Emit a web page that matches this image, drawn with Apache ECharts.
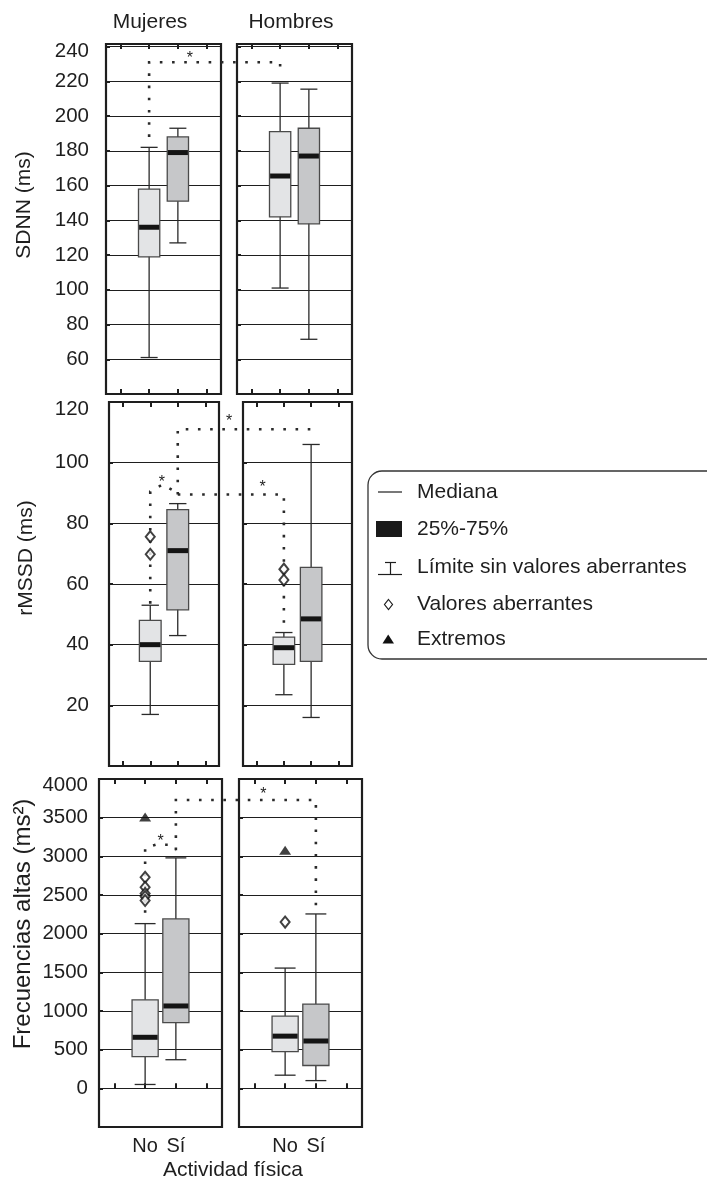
<!DOCTYPE html>
<html><head><meta charset="utf-8">
<script src="https://cdn.jsdelivr.net/npm/echarts@6/dist/echarts.min.js"></script>
<style>html,body{margin:0;padding:0;background:#fff}#c{width:707px;height:1183px}</style>
</head><body><div id="c"></div>
<script>
// ---------------- data ----------------
const sexes = ['Mujeres', 'Hombres'];
const actividad = ['No', 'Sí'];
const measures = ['SDNN (ms)', 'rMSSD (ms)', 'Frecuencias altas (ms²)'];
// each row: [lower whisker, Q1, median, Q3, upper whisker]  (No, Sí)
const sdnnMujeres  = [[61, 119, 136, 158, 182], [127, 151, 179, 188, 193]];
const sdnnHombres  = [[101, 142, 165.5, 191, 219], [71.5, 138, 177, 193, 215.5]];
const rmssdMujeres = [[17, 34.5, 40, 48, 53], [43, 51.5, 71, 84.5, 86.5]];
const rmssdHombres = [[23.5, 33.5, 39, 42.5, 44], [16, 34.5, 48.5, 65.5, 106]];
const faMujeres    = [[50, 410, 660, 1145, 2130], [370, 850, 1065, 2190, 2980]];
const faHombres    = [[170, 475, 675, 935, 1555], [100, 295, 612, 1090, 2255]];
// outliers (valores aberrantes) and extremes: [actividad index, value]
const rmssdMujeresOut = [[0, 75.6], [0, 69.8]];
const rmssdHombresOut = [[0, 64.9], [0, 61.3]];
const faMujeresOut = [[0, 2730], [0, 2600], [0, 2520], [0, 2480], [0, 2430]];
const faHombresOut = [[0, 2150]];
const faMujeresExt = [[0, 3510]];
const faHombresExt = [[0, 3080]];
// y axis scales per measure: [min, max, interval]
const sdnnScale  = [40, 241.5, 20];
const rmssdScale = [0, 120, 20];
const faScale    = [-500, 4000, 500];
// significance brackets: points [panel, x (2 = No, 3 = Sí), value]
const sigBrackets = [
  [[0, 2, 188], [0, 2, 231], [1, 2, 231], [1, 2, 224]],
  [[2, 2, 53.5], [2, 2, 90.5], [2, 2.45, 92.8], [2, 3, 90]],
  [[2, 3, 89.5], [2, 3, 111], [3, 3, 111], [3, 3, 109.5]],
  [[2, 3, 89.5], [3, 2, 89.5], [3, 2, 47]],
  [[4, 2, 2270], [4, 2, 3110], [4, 2.35, 3150], [4, 2.75, 3150], [4, 3, 3080]],
  [[4, 3, 3080], [4, 3, 3728], [5, 3, 3728], [5, 3, 2280]]
];
const sigStars = [[0, 3.42, 235], [2, 2.42, 94.3], [2, 4.87, 114.6], [3, 1.22, 92.9], [4, 2.5, 3224], [5, 1.29, 3836]];

// ---------------- layout / style ----------------
const FONT = 'Liberation Sans, Arial, Helvetica, sans-serif';
const INK = '#1e1e1e';
const fills = ['#e3e4e6', '#c6c7c9'];
const grids = [
  {left: 106, top: 44, width: 115, height: 350},
  {left: 237, top: 44, width: 115, height: 350},
  {left: 109, top: 402, width: 110, height: 364},
  {left: 243, top: 402, width: 109, height: 364},
  {left: 99, top: 779, width: 123, height: 348},
  {left: 239, top: 779, width: 123, height: 348}
];
const rowStyle = [
  {scale: sdnnScale, topLabel: 240, pad: 9, margin: 17, boxW: 0.74},
  {scale: rmssdScale, topLabel: 120, pad: 15, margin: 20, boxW: 0.79},
  {scale: faScale, topLabel: 4000, pad: 13, margin: 11, boxW: 0.85}
];
const panels = [
  {box: sdnnMujeres, out: [], ext: []},
  {box: sdnnHombres, out: [], ext: []},
  {box: rmssdMujeres, out: rmssdMujeresOut, ext: []},
  {box: rmssdHombres, out: rmssdHombresOut, ext: []},
  {box: faMujeres, out: faMujeresOut, ext: faMujeresExt},
  {box: faHombres, out: faHombresOut, ext: faHombresExt}
];

function renderBox(boxW) {
  return function (params, api) {
    const x = api.value(0);
    const lo = api.coord([x, api.value(1)]);
    const q1 = api.coord([x, api.value(2)]);
    const md = api.coord([x, api.value(3)]);
    const q3 = api.coord([x, api.value(4)]);
    const hi = api.coord([x, api.value(5)]);
    const w = api.size([boxW, 0])[0];
    const cw = w * 0.8;
    const cx = lo[0];
    const ls = {stroke: '#2a2a2a', lineWidth: 1.3};
    return {type: 'group', children: [
      {type: 'line', shape: {x1: cx, y1: lo[1], x2: cx, y2: hi[1]}, style: ls},
      {type: 'line', shape: {x1: cx - cw / 2, y1: lo[1], x2: cx + cw / 2, y2: lo[1]}, style: ls},
      {type: 'line', shape: {x1: cx - cw / 2, y1: hi[1], x2: cx + cw / 2, y2: hi[1]}, style: ls},
      {type: 'rect', shape: {x: cx - w / 2, y: q3[1], width: w, height: q1[1] - q3[1]},
        style: {fill: fills[x - 2], stroke: '#4a4a4a', lineWidth: 1.3}},
      {type: 'rect', shape: {x: cx - w / 2 + 0.6, y: md[1] - 2.5, width: w - 1.2, height: 5}, style: {fill: '#141414'}}
    ]};
  };
}

const xAxes = [], yAxes = [], series = [];
grids.forEach((g, p) => {
  const row = Math.floor(p / 2);
  const rs = rowStyle[row];
  const [mn, mx, iv] = rs.scale;
  const tickStyle = {show: true, inside: true, length: 5, lineStyle: {color: INK, width: 2}};
  xAxes[p] = {
    gridIndex: p, type: 'value', min: 0.5, max: 4.5, position: 'bottom',
    axisLine: {show: false}, splitLine: {show: false},
    axisTick: Object.assign({customValues: [1, 2, 3, 4]}, tickStyle),
    axisLabel: {show: row === 2, customValues: [2, 3], formatter: v => actividad[v - 2] || '',
      margin: 9, fontSize: 20, color: INK, fontFamily: FONT}
  };
  xAxes[6 + p] = {
    gridIndex: p, type: 'value', min: 0.5, max: 4.5, position: 'top',
    axisLine: {show: false}, splitLine: {show: false},
    axisTick: Object.assign({customValues: [1, 2, 3, 4]}, tickStyle),
    axisLabel: {show: false}
  };
  yAxes[p] = {
    gridIndex: p, type: 'value', min: mn, max: mx, interval: iv,
    axisLine: {show: false},
    axisTick: {show: true, inside: true, length: 4, lineStyle: {color: INK, width: 2}},
    splitLine: {show: true, lineStyle: {color: INK, width: 1.2}},
    axisLabel: {
      show: p % 2 === 0, margin: rs.margin, fontSize: 20.5, color: INK, fontFamily: FONT,
      showMinLabel: false, showMaxLabel: mx === rs.topLabel,
      formatter: v => v === rs.topLabel ? '{t|' + v + '}' : String(v),
      rich: {t: {fontSize: 20.5, color: INK, fontFamily: FONT, padding: [rs.pad, 0, 0, 0]}}
    }
  };
  const pan = panels[p];
  series.push({
    type: 'custom', name: '25%-75%', xAxisIndex: p, yAxisIndex: p,
    renderItem: renderBox(rs.boxW),
    encode: {x: 0, y: [1, 2, 3, 4, 5]},
    data: pan.box.map((r, i) => [i + 2].concat(r)),
    z: 3
  });
  if (pan.out.length) series.push({
    type: 'scatter', name: 'Valores aberrantes', xAxisIndex: p, yAxisIndex: p,
    symbol: 'emptyDiamond', symbolSize: [9, 11],
    itemStyle: {color: '#111', borderWidth: 1.3},
    data: pan.out.map(([i, v]) => [i + 2, v]), z: 4
  });
  if (pan.ext.length) series.push({
    type: 'scatter', name: 'Extremos', xAxisIndex: p, yAxisIndex: p,
    symbol: 'triangle', symbolSize: [12, 9],
    itemStyle: {color: '#111'},
    data: pan.ext.map(([i, v]) => [i + 2, v]), z: 4
  });
});

const option = {
  animation: false,
  backgroundColor: '#fff',
  grid: grids.map(g => Object.assign({show: true, borderColor: INK, borderWidth: 2.2, backgroundColor: 'transparent'}, g)),
  xAxis: xAxes,
  yAxis: yAxes,
  series: series
};

const chart = echarts.init(document.getElementById('c'), null, {renderer: 'canvas'});
chart.setOption(option);

const toPx = (p, x, v) => chart.convertToPixel({xAxisIndex: p, yAxisIndex: p}, [x, v]);
const txt = (text, x, y, size, extra) => Object.assign({type: 'text', x: x, y: y, silent: true,
  style: {text: text, fill: INK, font: size + 'px ' + FONT, align: 'center', verticalAlign: 'middle'}}, extra || {});

const graphics = [];
// column titles
graphics.push(txt(sexes[0], 150, 22, 21));
graphics.push(txt(sexes[1], 291, 22, 21));
// axis names (rotated)
graphics.push(txt(measures[0], 24, 205, 21, {rotation: Math.PI / 2}));
graphics.push(txt(measures[1], 26, 558, 21, {rotation: Math.PI / 2}));
graphics.push(txt(measures[2], 23, 924, 24, {rotation: Math.PI / 2}));
graphics.push(txt('Actividad física', 233, 1170, 21));

// significance brackets
sigBrackets.forEach(b => graphics.push({
  type: 'polyline', silent: true, z: 1,
  shape: {points: b.map(([p, x, v]) => toPx(p, x, v))},
  style: {stroke: '#2a2a2a', lineWidth: 2.6, lineDash: [2.6, 9.6], fill: null}
}));
sigStars.forEach(([p, x, v]) => {
  const [px, py] = toPx(p, x, v);
  graphics.push({type: 'text', x: px, y: py + 3, silent: true, z: 1,
    style: {text: '*', fill: INK, font: '16px ' + FONT, align: 'center', verticalAlign: 'middle'}});
});

// legend
const legendItems = ['Mediana', '25%-75%', 'Límite sin valores aberrantes', 'Valores aberrantes', 'Extremos'];
const ly = [492, 529, 567.5, 604.5, 639];
graphics.push({type: 'rect', silent: true, shape: {x: 368, y: 471, width: 380, height: 188, r: 14},
  style: {fill: null, stroke: '#333', lineWidth: 1.3}});
legendItems.forEach((t, i) => graphics.push({type: 'text', x: 417, y: ly[i], silent: true,
  style: {text: t, fill: INK, font: '21px ' + FONT, align: 'left', verticalAlign: 'middle'}}));
graphics.push({type: 'line', silent: true, shape: {x1: 378, y1: ly[0], x2: 402, y2: ly[0]}, style: {stroke: INK, lineWidth: 1.2}});
graphics.push({type: 'rect', silent: true, shape: {x: 376, y: ly[1] - 8, width: 26, height: 16}, style: {fill: '#1a1a1a'}});
graphics.push({type: 'line', silent: true, shape: {x1: 385, y1: ly[2] - 5, x2: 396, y2: ly[2] - 5}, style: {stroke: INK, lineWidth: 1.2}});
graphics.push({type: 'line', silent: true, shape: {x1: 390.5, y1: ly[2] - 5, x2: 390.5, y2: ly[2] + 7}, style: {stroke: INK, lineWidth: 1.2}});
graphics.push({type: 'line', silent: true, shape: {x1: 378, y1: ly[2] + 7, x2: 402, y2: ly[2] + 7}, style: {stroke: INK, lineWidth: 1.2}});
graphics.push({type: 'polygon', silent: true, shape: {points: [[388.5, ly[3] - 5], [392.5, ly[3]], [388.5, ly[3] + 5], [384.5, ly[3]]]}, style: {fill: '#fff', stroke: INK, lineWidth: 1.2}});
graphics.push({type: 'polygon', silent: true, shape: {points: [[382.5, ly[4] + 4.5], [394, ly[4] + 4.5], [388.2, ly[4] - 4.5]]}, style: {fill: '#111'}});

chart.setOption({graphic: graphics});
</script>
</body></html>
